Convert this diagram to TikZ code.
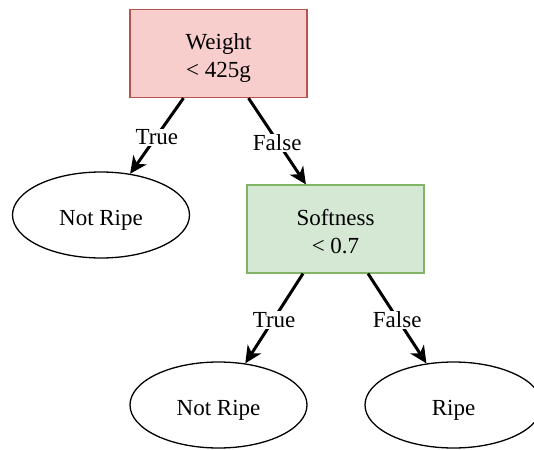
\documentclass[tikz,border=0pt]{standalone}
\usepackage{fontspec}
\setmainfont{Liberation Serif}
\usetikzlibrary{arrows.meta,shapes.geometric}
\definecolor{redfill}{HTML}{F8CECC}
\definecolor{redline}{HTML}{B85450}
\definecolor{greenfill}{HTML}{D5E8D4}
\definecolor{greenline}{HTML}{82B366}
\begin{document}
\begin{tikzpicture}[x=1pt,y=-1pt,
  every node/.style={font=\fontsize{23}{28}\selectfont},
  test/.style={draw, line width=1.2pt, minimum width=177pt, minimum height=88pt, align=center, inner sep=0pt, text height=49pt, text depth=0pt},
  redtest/.style={test, fill=redfill, draw=redline},
  greentest/.style={test, fill=greenfill, draw=greenline},
  leaf/.style={draw, ellipse, line width=1.3pt, minimum width=177pt, minimum height=86pt, inner sep=0pt, text height=20pt, text depth=0pt},
  branch/.style={line width=3pt, -{Stealth[length=17pt, width=16pt, inset=5pt]}},
  lbl/.style={fill=white, inner sep=1pt, pos=0.5, yshift=-1.5pt}
]
\useasboundingbox (0,0) rectangle (534,449);
\node[redtest] (weight) at (218.5,53.5) {Weight\\< 425g};
\node[greentest] (soft) at (335.5,229) {Softness\\< 0.7};
\node[leaf] (nr1) at (101,215) {Not Ripe};
\node[leaf] (nr2) at (218.5,405) {Not Ripe};
\node[leaf] (ripe) at (453.5,405) {Ripe};

\coordinate (w1) at ([xshift=-35pt]weight.south);
\coordinate (w2) at ([xshift=30pt]weight.south);
\coordinate (s1) at ([xshift=-32.5pt]soft.south);
\coordinate (s2) at ([xshift=32.5pt]soft.south);

\draw[branch] (w1) -- (nr1) node[lbl] {True};
\draw[branch] (w2) -- (soft) node[lbl] {False};
\draw[branch] (s1) -- (nr2) node[lbl] {True};
\draw[branch] (s2) -- (ripe) node[lbl] {False};
\end{tikzpicture}
\end{document}
